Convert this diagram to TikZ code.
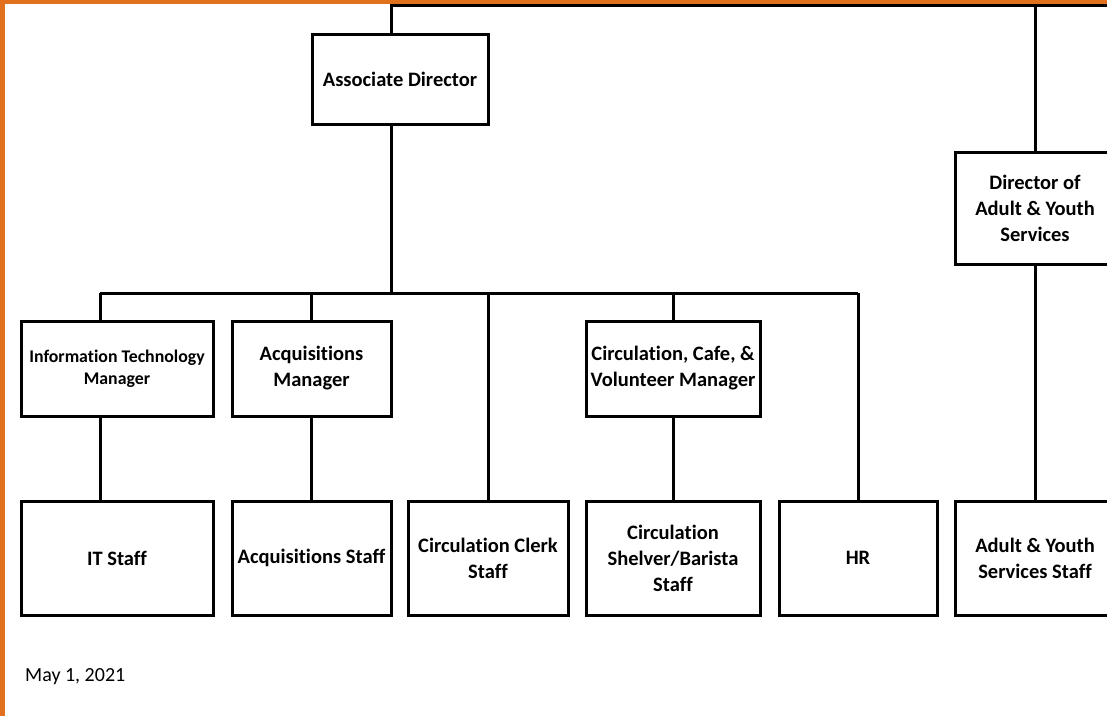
\documentclass[tikz,border=0pt]{standalone}
\usepackage{fontspec}
\setmainfont{Carlito}[Ligatures=NoCommon]
\definecolor{frameorange}{HTML}{E2711D}
\begin{document}
\begin{tikzpicture}[x=1pt,y=-1pt,
  box/.style={draw=black, line width=3pt, fill=white, align=center, inner sep=0pt,
    font=\bfseries\fontsize{20.5}{26}\selectfont},
  smallbox/.style={box, font=\bfseries\fontsize{17.8}{22}\selectfont},
  conn/.style={draw=black, line width=3pt}]
\useasboundingbox (0,0) rectangle (1107,716);
\clip (0,0) rectangle (1107,716);
\fill[white] (0,0) rectangle (1107,716);
% orange frame along the left and top edges
\fill[frameorange] (0,0) rectangle (5,716);
\fill[frameorange] (0,0) rectangle (1107,4);

% managers
\node[box, minimum width=176pt, minimum height=90pt] (AD) at (400,79.5) {Associate Director};
\node[smallbox, minimum width=192pt, minimum height=95pt] (ITM) at (117,368.5) {Information Technology\\Manager};
\node[box, minimum width=159pt, minimum height=95pt] (AM) at (311.5,368.5) {Acquisitions\\Manager};
\node[box, minimum width=174pt, minimum height=95pt] (CM) at (673,368.5) {Circulation, Cafe, \&\\Volunteer Manager};
\node[box, minimum width=160pt, minimum height=112pt] (DAY) at (1035,208) {Director of\\Adult \& Youth\\Services};

% staff row
\node[box, minimum width=192pt, minimum height=114pt] (ITS) at (117,558) {IT Staff};
\node[box, minimum width=159pt, minimum height=114pt] (AS) at (311.5,558) {Acquisitions Staff};
\node[box, minimum width=160pt, minimum height=114pt] (CCS) at (488,558) {Circulation Clerk\\Staff};
\node[box, minimum width=174pt, minimum height=114pt] (CSS) at (673,558) {Circulation\\Shelver/Barista\\Staff};
\node[box, minimum width=158pt, minimum height=114pt] (HR) at (858,558) {HR};
\node[box, minimum width=160pt, minimum height=114pt] (AYS) at (1035,558) {Adult \& Youth\\Services Staff};

% connector anchors
\coordinate (top) at (391,5.5);
\coordinate (topR) at (1107,5.5);
\coordinate (busL) at (100,293);
\coordinate (busR) at (858,293);
\coordinate (adx) at (391,0);

% top line
\draw[conn] (AD.north -| adx) -- (top) -- (topR);
\draw[conn] (DAY.north) -- (DAY.north |- top);
% bus under the associate director
\draw[conn] (AD.south -| adx) -- (busL -| adx);
\draw[conn] (busL) -- (busR);
\draw[conn] (ITM.north -| busL) -- (busL);
\draw[conn] (AM.north) -- (AM.north |- busL);
\draw[conn] (CCS.north) -- (CCS.north |- busL);
\draw[conn] (CM.north) -- (CM.north |- busL);
\draw[conn] (HR.north) -- (busR);
% manager to staff
\draw[conn] (ITM.south -| busL) -- (ITS.north -| busL);
\draw[conn] (AM.south) -- (AS.north);
\draw[conn] (CM.south) -- (CSS.north);
\draw[conn] (DAY.south) -- (AYS.north);

% date
\node[anchor=west, inner sep=0pt, font=\fontsize{20}{24}\selectfont] (date) at (25,677) {May 1, 2021};
\end{tikzpicture}
\end{document}
